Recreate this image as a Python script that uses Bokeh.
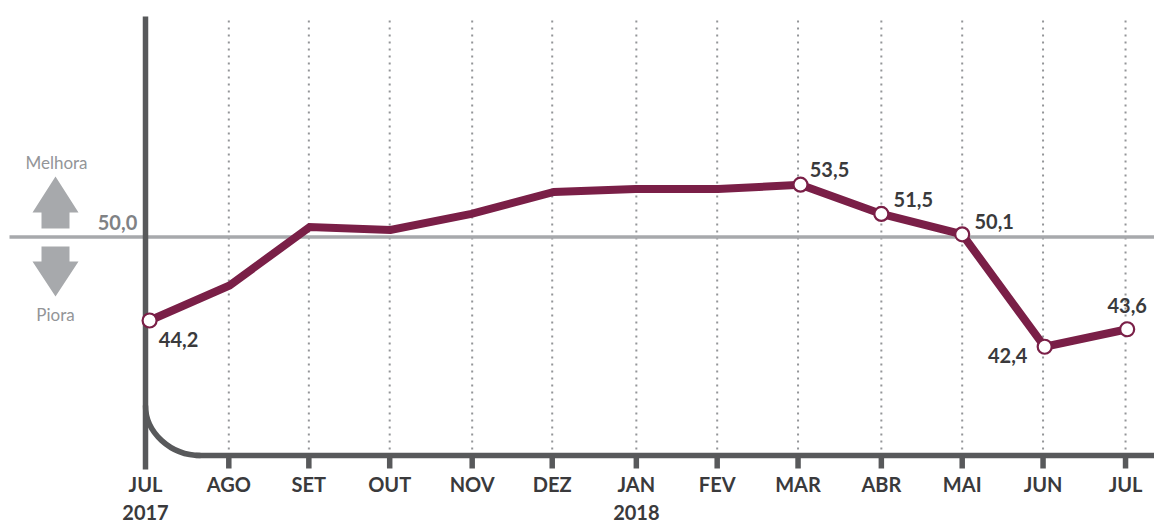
from bokeh.plotting import figure
from bokeh.embed import file_html
from bokeh.resources import INLINE
from bokeh.core.properties import value
from bokeh.models import Range1d

months = ["JUL", "AGO", "SET", "OUT", "NOV", "DEZ", "JAN", "FEV", "MAR", "ABR", "MAI", "JUN", "JUL"]
years = {0: "2017", 6: "2018"}
series = [44.2, 46.6, 50.6, 50.4, 51.5, 53.0, 53.2, 53.2, 53.5, 51.5, 50.1, 42.4, 43.6]
tick_pos = [0, 1.02, 2.0, 2.99, 4.0, 4.98, 6.01, 7.0, 7.99, 9.01, 10.0, 10.99, 12.0]
point_pos = [0.05, 1.03, 2.01, 3.0, 3.99, 5.0, 6.0, 7.01, 8.02, 9.01, 10.0, 11.01, 12.02]
labelled = {0: (29, 19), 8: (29, -15), 9: (32, -14), 10: (32, -13), 11: (-37, 9), 12: (0, -24)}
font = "Lato"
SIZE = "20px"

W, H = 1154, 524
PX, PY = 81.67, 14.6
def fx(px): return (px - 145) / PX
def fy(py): return 50 - (py - 235.3) / PY

p = figure(width=W, height=H, output_backend="svg", toolbar_location=None,
           x_range=Range1d(fx(0), fx(W)), y_range=Range1d(fy(H), fy(0)),
           min_border=0, outline_line_color=None, background_fill_color="white", border_fill_color="white")
p.axis.visible = False
p.grid.visible = False

DARK, GREY, WINE, TEXT = "#58595b", "#a7a9ac", "#7a1f47", "#3a3a3c"

# dotted gridlines
for x in tick_pos[1:]:
    p.line([x, x], [fy(20), fy(455)], line_color="#939598", line_width=2, line_dash="2 5")
# 50 reference
p.line([fx(9), fx(W)], [fy(236.5), fy(236.5)], line_color=GREY, line_width=3.5)
# axis
p.line([0, 0], [fy(16), fy(469)], line_color=DARK, line_width=5.5)
p.bezier(x0=[0], y0=[fy(405)], x1=[fx(200)], y1=[fy(455)],
         cx0=[0], cy0=[fy(432)], cx1=[fx(170)], cy1=[fy(455)], line_color=DARK, line_width=5.5)
p.line([fx(195), fx(W)], [fy(455), fy(455)], line_color=DARK, line_width=5.5)
for x in tick_pos[1:]:
    p.line([x, x], [fy(455), fy(468)], line_color=DARK, line_width=5.5, line_cap="butt")
# arrows
ax = [32, 55, 78, 69, 69, 41, 41]
p.patch([fx(a) for a in ax], [fy(a) for a in [212, 176, 212, 212, 228, 228, 212]], color=GREY, line_width=0)
p.patch([fx(a) for a in ax], [fy(a) for a in [261, 296, 261, 261, 246, 246, 261]], color=GREY, line_width=0)
# series
p.line(point_pos, series, line_color=WINE, line_width=8, line_join="miter")
idx = sorted(labelled)
p.scatter([point_pos[i] for i in idx], [series[i] for i in idx], size=14, fill_color="white",
          line_color=WINE, line_width=2.2)
# value labels
def fmt(v): return f"{v:.1f}".replace(".", ",")
for i in idx:
    p.text([point_pos[i]], [series[i]], text=[fmt(series[i])], x_offset=labelled[i][0], y_offset=labelled[i][1],
           text_font=value(font), text_font_style="bold", text_font_size=SIZE, text_color=TEXT,
           text_align="center", text_baseline="middle")
# month labels
p.text(tick_pos, [fy(483)] * 13, text=months, text_font=value(font), text_font_style="bold",
       text_font_size=SIZE, text_color=TEXT, text_align="center", text_baseline="middle")
p.text([tick_pos[i] for i in years], [fy(512)] * 2, text=list(years.values()), text_font=value(font), text_font_style="bold",
       text_font_size=SIZE, text_color=TEXT, text_align="center", text_baseline="middle")
# side labels
p.text([fx(117)], [fy(222)], text=["50,0"], text_font=value(font), text_font_style="bold",
       text_font_size=SIZE, text_color="#808285", text_align="center", text_baseline="middle")
p.text([fx(56), fx(55)], [fy(162), fy(314)], text=["Melhora", "Piora"], text_font=value(font),
       text_font_size="17px", text_color="#939598", text_align="center", text_baseline="middle")

open("out.html", "w").write(file_html(p, INLINE))
